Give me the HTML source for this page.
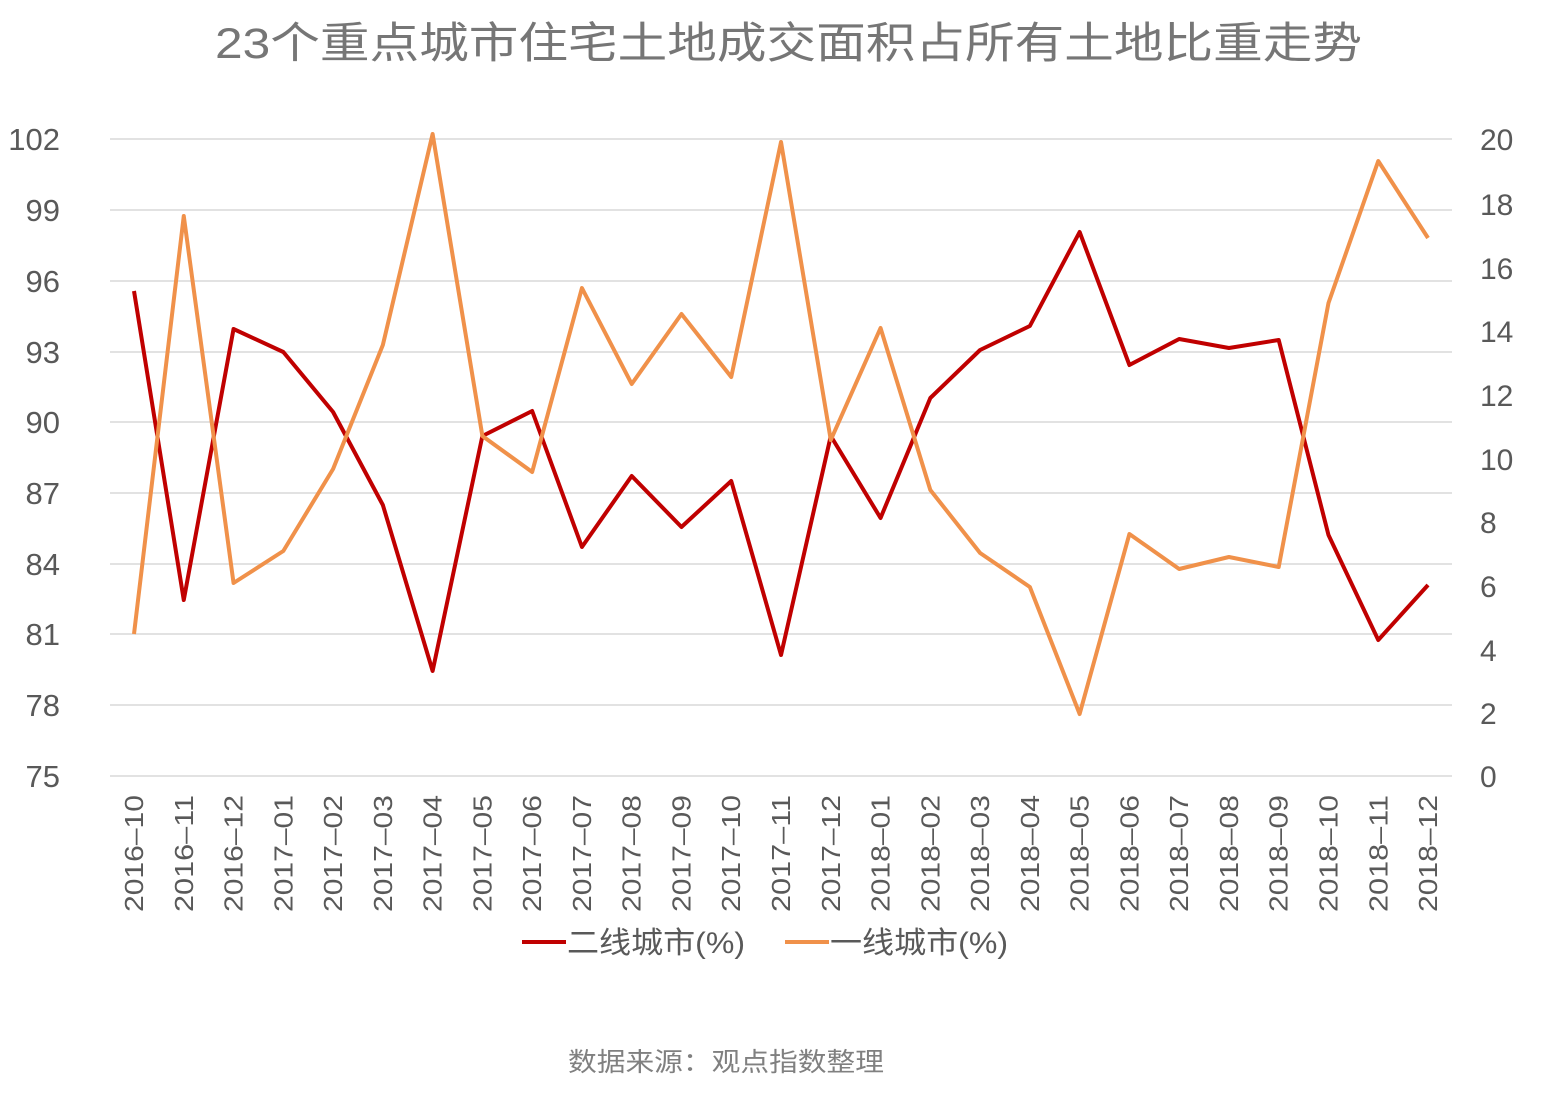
<!DOCTYPE html>
<html><head><meta charset="utf-8"><style>
body{margin:0;background:#fff;}
svg text{font-family:"Liberation Sans","Noto Sans CJK SC",sans-serif;}
</style></head><body>
<svg width="1543" height="1095" xmlns="http://www.w3.org/2000/svg">
<text x="215" y="58" font-size="43" fill="#767676" textLength="1147" lengthAdjust="spacingAndGlyphs">23个重点城市住宅土地成交面积占所有土地比重走势</text>
<g stroke="#d9d9d9" stroke-width="1.5">
<line x1="110" x2="1452" y1="139" y2="139"/><line x1="110" x2="1452" y1="210" y2="210"/>
<line x1="110" x2="1452" y1="281" y2="281"/><line x1="110" x2="1452" y1="352" y2="352"/>
<line x1="110" x2="1452" y1="422" y2="422"/><line x1="110" x2="1452" y1="493" y2="493"/>
<line x1="110" x2="1452" y1="564" y2="564"/><line x1="110" x2="1452" y1="634" y2="634"/>
<line x1="110" x2="1452" y1="705" y2="705"/><line x1="110" x2="1452" y1="776" y2="776"/>
</g>
<g font-size="31" fill="#595959" text-anchor="end">
<text x="60" y="150">102</text><text x="60" y="221">99</text><text x="60" y="292">96</text>
<text x="60" y="363">93</text><text x="60" y="433">90</text><text x="60" y="504">87</text>
<text x="60" y="575">84</text><text x="60" y="645">81</text><text x="60" y="716">78</text>
<text x="60" y="787">75</text>
</g>
<g font-size="30" fill="#595959" text-anchor="start">
<text x="1480" y="150">20</text><text x="1480" y="215">18</text><text x="1480" y="279">16</text>
<text x="1480" y="342">14</text><text x="1480" y="406">12</text><text x="1480" y="470">10</text>
<text x="1480" y="533">8</text><text x="1480" y="597">6</text><text x="1480" y="661">4</text>
<text x="1480" y="724">2</text><text x="1480" y="787">0</text>
</g>
<g font-size="26" fill="#595959" id="xl"></g>
<polyline fill="none" stroke="#c00000" stroke-width="4" stroke-linejoin="round" id="r"/>
<polyline fill="none" stroke="#f0914a" stroke-width="4" stroke-linejoin="round" id="o"/>
<line x1="522" x2="566" y1="942" y2="942" stroke="#c00000" stroke-width="4"/>
<text x="567" y="953" font-size="30" fill="#595959" textLength="178" lengthAdjust="spacingAndGlyphs">二线城市(%)</text>
<line x1="785" x2="829" y1="942" y2="942" stroke="#f0914a" stroke-width="4"/>
<text x="830" y="953" font-size="30" fill="#595959" textLength="178" lengthAdjust="spacingAndGlyphs">一线城市(%)</text>
<text x="568" y="1071" font-size="26" fill="#808080" textLength="316" lengthAdjust="spacingAndGlyphs">数据来源：观点指数整理</text>
</svg>
<script>
var R=[291,600,329,352,412,505,671,436,411,547,476,527,481,655,436,518,398,350,326,232,365,339,348,340,535,640,585];
var O=[634,216,583,551,469,345,134,436,472,288,384,314,377,142,440,328,490,553,587,714,534,569,557,567,303,161,238];
var L=["2016-10","2016-11","2016-12"];for(var y=2017;y<=2018;y++)for(var m=1;m<=12;m++)L.push(y+"-"+(m<10?"0":"")+m);
var rp="",op="",g=document.getElementById("xl"),ns="http://www.w3.org/2000/svg";
for(var i=0;i<27;i++){var x=134+i*49.77;rp+=x+","+R[i]+" ";op+=x+","+O[i]+" ";
var t=document.createElementNS(ns,"text");t.setAttribute("transform","translate("+(x+9)+",912) rotate(-90)");
t.setAttribute("textLength","117");t.setAttribute("lengthAdjust","spacingAndGlyphs");
t.textContent=L[i].replace("-","–");g.appendChild(t);}
document.getElementById("r").setAttribute("points",rp);document.getElementById("o").setAttribute("points",op);
</script>
</body></html>
